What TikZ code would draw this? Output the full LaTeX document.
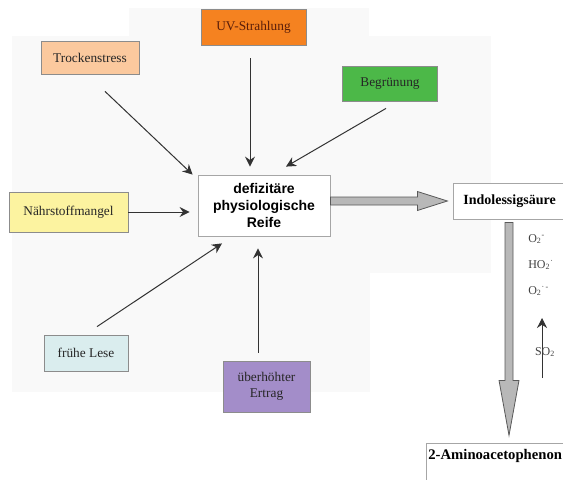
\documentclass[tikz,border=0pt]{standalone}
\usepackage{fontspec}
\setmainfont{Liberation Serif}
\setsansfont{Liberation Sans}
\usetikzlibrary{arrows.meta}

\definecolor{uvorange}{RGB}{245,130,32}
\definecolor{pfirsich}{RGB}{251,201,158}
\definecolor{gruen}{RGB}{76,184,72}
\definecolor{gelb}{RGB}{252,243,160}
\definecolor{hellblau}{RGB}{218,237,238}
\definecolor{lila}{RGB}{163,141,201}

\begin{document}
\begin{tikzpicture}[x=0.75pt, y=-0.75pt,
	every node/.style={font=\fontsize{10}{12}\selectfont},
	faktor/.style={draw=black!45, line width=0.6pt, inner sep=0pt, text=black!85, align=center},
	kasten/.style={draw=black!35, line width=0.6pt, fill=white},
	pfeil/.style={draw=black!80, line width=0.75pt, -{Stealth[length=7.5pt, width=7.5pt, inset=2.5pt]}},
	pfeile/.style={every edge/.style={pfeil}},
	dick/.style={draw=black!65, fill=black!28, line width=0.6pt}]
	\useasboundingbox (0,0) rectangle (563,479);
	\fill[black!2.5] (12,36) rectangle (491,273);
	\fill[black!2.5] (12,273) rectangle (370,392);
	\fill[black!2.5] (129,8) rectangle (369,36);

	% Einflussfaktoren
	\node[faktor, fill=uvorange, text={rgb,255:red,90;green,30;blue,10}, minimum width=78.75pt, minimum height=27pt] (uv) at (253.5,27) {UV-Strahlung};
	\node[faktor, fill=pfirsich, minimum width=73.5pt, minimum height=24.75pt] (trocken) at (90,57.5) {Trockenstress};
	\node[faktor, fill=gruen, minimum width=71.25pt, minimum height=26.25pt] (begr) at (390,83.5) {Begrünung};
	\node[faktor, fill=gelb, minimum width=89.25pt, minimum height=30pt] (naehr) at (68.5,212) {Nährstoffmangel};
	\node[faktor, fill=hellblau, minimum width=63pt, minimum height=27pt] (lese) at (86,353) {frühe Lese};
	\node[faktor, fill=lila, minimum width=65.25pt, minimum height=38.25pt, font=\fontsize{10}{11.6}\selectfont] (ertrag) at (266.5,386.5) {überhöhter\\Ertrag};

	\node[kasten, minimum width=99pt, minimum height=45.75pt, align=center, font=\sffamily\bfseries\fontsize{10.5}{12.75}\selectfont] (reife) at (264,205.5) {defizitäre\\physiologische\\Reife};
	\node[kasten, anchor=west, text width=88pt, align=left, inner xsep=7.5pt, minimum height=27pt, font=\bfseries\fontsize{10.5}{12}\selectfont] (iaa) at (453,201) {Indolessigsäure};
	\node[kasten, anchor=north west, text width=125pt, align=left, inner xsep=1.5pt, inner ysep=2pt, text height=10pt, text depth=30pt, font=\bfseries\fontsize{11}{13}\selectfont] (aap) at (426,443) {2-Aminoacetophenon};

	\path[pfeile]
	([shift={(15,17)}]trocken.south) edge ([shift={(-5,0)}]reife.north west)
	([shift={(-3.5,13)}]uv.south) edge ([shift={(-14,-8)}]reife.north)
	([shift={(-4,7)}]begr.south) edge ([shift={(22,-8)}]reife.north)
	(naehr.east) edge[shorten >=6pt] (reife.west |- naehr.east)
	([shift={(11,-8)}]lese.north) edge ([shift={(-42,7)}]reife.south)
	([shift={(-8.5,-8)}]ertrag.north) edge ([shift={(-6,12)}]reife.south);

	% Blockpfeile
	\begin{scope}[shift={(reife.east |- iaa.west)}]
	\draw[dick] (0,-4) -- (87,-4) -- (87,-9.5) -- (117,0) -- (87,9.5) -- (87,4) -- (0,4) -- cycle;
	\end{scope}
	\begin{scope}[shift={([xshift=42pt]iaa.south west)}]
	\draw[dick] (-4,3) -- (-4,161) -- (-10,161) -- (0,216) -- (10,161) -- (4,161) -- (4,3) -- cycle;
	\end{scope}

	% Radikale
	\node[anchor=north west, align=left, inner sep=0pt, text=black!75, font=\fontsize{9}{19.5}\selectfont] (ros) at (528,234) {O\textsubscript{2}\textsuperscript{-}\\HO\textsubscript{2}\textsuperscript{·}\\O\textsubscript{2}\textsuperscript{·\,-}};
	\coordinate (so2fuss) at (542,378);
	\coordinate (so2spitze) at (542,318);
	\path[pfeile, every edge/.append style={line width=0.6pt}] (so2fuss) edge (so2spitze);
	\node[inner sep=0pt, text=black!75, font=\fontsize{9}{11}\selectfont] (so2) at (545,352) {SO\textsubscript{2}};
\end{tikzpicture}
\end{document}
